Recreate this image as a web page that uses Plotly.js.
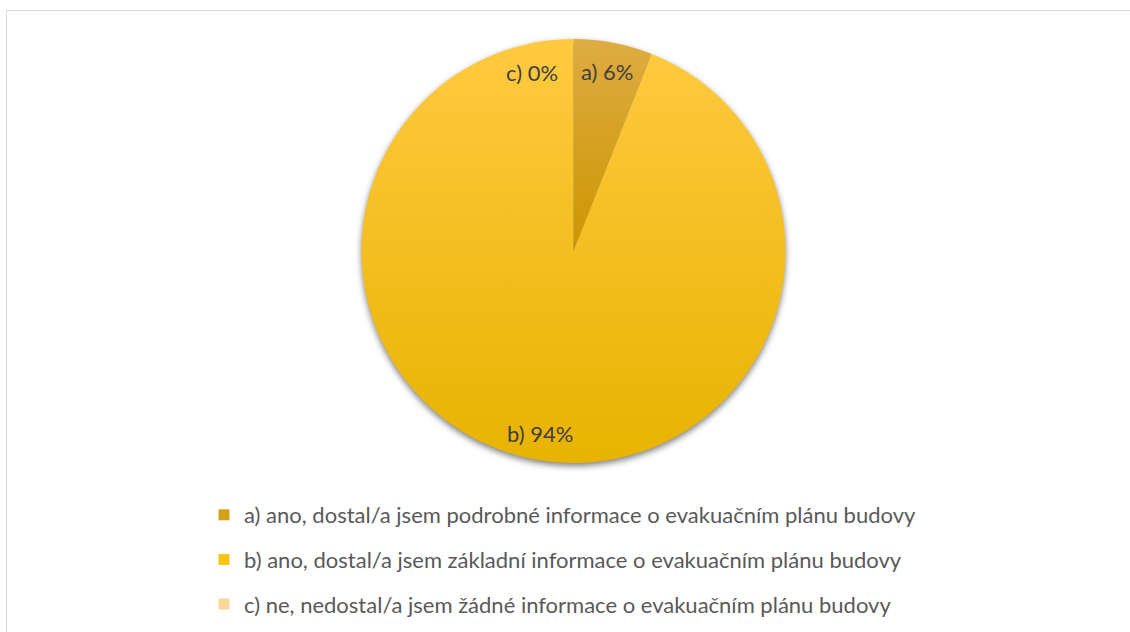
<!DOCTYPE html>
<html><head><meta charset="utf-8">
<script src="https://cdn.plot.ly/plotly-3.0.1.min.js"></script>
<style>
html,body{margin:0;padding:0;background:#fff}
#chart{width:1130px;height:632px}
.pielayer{filter:drop-shadow(0px 3px 3px rgba(0,0,0,0.5))}
</style>
</head><body><div id="chart"></div><script>
const categories = [
  "a) ano, dostal/a jsem podrobné informace o evakuačním plánu budovy",
  "b) ano, dostal/a jsem základní informace o evakuačním plánu budovy",
  "c) ne, nedostal/a jsem žádné informace o evakuačním plánu budovy"
];
const shortLabels = ["a)", "b)", "c)"];
const values = [6, 94, 0];
const colors = ["#D4A01A", "#F8C314", "#FAD89E"];
const gradientTop = ["#DEAC42", "#FFCA40", "#FDE2B4"];
const gradientBottom = ["#CC9600", "#E8B300", "#F5CC88"];

const W = 1130, H = 632;
const px = v => v / W, py = v => 1 - v / H;

const labelPos = [[607, 71], [540, 433], [532, 73]];

const pie = {
  type: "pie",
  labels: categories,
  values: values,
  sort: false,
  direction: "clockwise",
  rotation: 0,
  textinfo: "none",
  hoverinfo: "label+percent",
  showlegend: false,
  marker: { colors: colors, line: { width: 0 } },
  domain: { x: [px(361.5), px(785.5)], y: [py(463), py(39)] }
};

const legendTraces = categories.map((c, i) => ({
  type: "scatter", mode: "markers", x: [null], y: [null],
  name: c, legendgroup: "g" + i,
  marker: { symbol: "square", size: 11, color: colors[i] },
  hoverinfo: "skip"
}));

const annotations = shortLabels.map((s, i) => ({
  xref: "paper", yref: "paper",
  x: px(labelPos[i][0]), y: py(labelPos[i][1]),
  xanchor: "center", yanchor: "middle",
  text: s + " " + values[i] + "%",
  showarrow: false,
  font: { family: "Lato, 'Open Sans', sans-serif", size: 22, color: "#404040" }
}));

const layout = {
  width: W, height: H,
  margin: { l: 0, r: 0, t: 0, b: 0 },
  paper_bgcolor: "#ffffff", plot_bgcolor: "#ffffff",
  xaxis: { visible: false }, yaxis: { visible: false },
  showlegend: true,
  legend: {
    x: px(204), y: py(494), xanchor: "left", yanchor: "top",
    orientation: "v", tracegroupgap: 13, itemwidth: 30,
    font: { family: "Lato, 'Open Sans', sans-serif", size: 22, color: "#595959" }
  },
  annotations: annotations,
  shapes: [{
    type: "rect", xref: "paper", yref: "paper",
    x0: px(6.5), x1: 1.05, y0: -0.05, y1: py(10.5),
    line: { color: "#D9D9D9", width: 1 }, fillcolor: "rgba(0,0,0,0)", layer: "below"
  }]
};

Plotly.newPlot("chart", [pie].concat(legendTraces), layout, { displayModeBar: false, staticPlot: true }).then(gd => {
  const svg = gd.querySelector(".main-svg");
  const ns = "http://www.w3.org/2000/svg";
  let defs = svg.querySelector("defs");
  if (!defs) { defs = document.createElementNS(ns, "defs"); svg.insertBefore(defs, svg.firstChild); }
  const paths = gd.querySelectorAll(".pielayer .slice path.surface");
  paths.forEach((p, i) => {
    const g = document.createElementNS(ns, "linearGradient");
    g.setAttribute("id", "sliceGrad" + i);
    g.setAttribute("x1", "0"); g.setAttribute("y1", "0");
    g.setAttribute("x2", "0"); g.setAttribute("y2", "1");
    const s1 = document.createElementNS(ns, "stop");
    s1.setAttribute("offset", "0"); s1.setAttribute("stop-color", gradientTop[i]);
    const s2 = document.createElementNS(ns, "stop");
    s2.setAttribute("offset", "1"); s2.setAttribute("stop-color", gradientBottom[i]);
    g.appendChild(s1); g.appendChild(s2); defs.appendChild(g);
    p.style.fill = "url(#sliceGrad" + i + ")";
  });
});
</script></body></html>
